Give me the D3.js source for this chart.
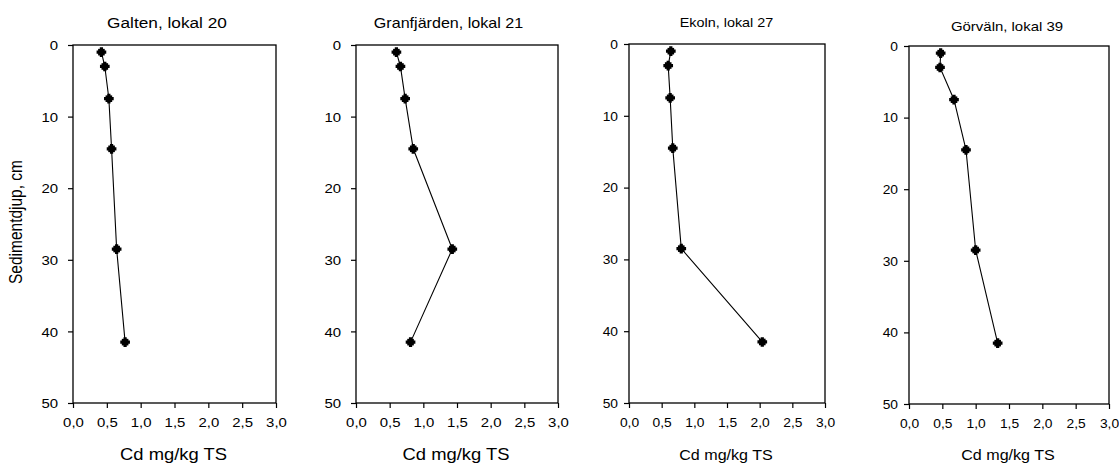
<!DOCTYPE html>
<html>
<head>
<meta charset="utf-8">
<script src="https://cdn.jsdelivr.net/npm/d3@7"></script>
<style>
  html, body { margin: 0; padding: 0; background: #fff; }
  svg { display: block; }
  text { font-family: "Liberation Sans", Arial, sans-serif; fill: #000; }
</style>
</head>
<body>
<svg id="chart" width="1119" height="464"></svg>
<script>
// ---- data ----
const depths = [1, 3, 7.5, 14.5, 28.5, 41.5];
const titles = ["Galten, lokal 20", "Granfjärden, lokal 21", "Ekoln, lokal 27", "Görväln, lokal 39"];
const galten = [0.42, 0.47, 0.53, 0.57, 0.645, 0.77];
const granfjarden = [0.60, 0.66, 0.73, 0.85, 1.43, 0.81];
const ekoln = [0.64, 0.60, 0.63, 0.67, 0.80, 2.04];
const gorvaln = [0.475, 0.465, 0.675, 0.855, 1.00, 1.33];
const xTicks = [0, 0.5, 1, 1.5, 2, 2.5, 3];
const yTicks = [0, 10, 20, 30, 40, 50];
const xLabel = "Cd mg/kg TS";
const yLabel = "Sedimentdjup, cm";

const series = [galten, granfjarden, ekoln, gorvaln];

// ---- layout (styles only) ----
const SX = 1.15; // horizontal text stretch of the original image
const panels = [
  {left: 73,  right: 276,  top: 45, bottom: 403, titleY: 27.5, fTitle: 15,   fTick: 13,   fLab: 16},
  {left: 356, right: 558,  top: 45, bottom: 403, titleY: 27.5, fTitle: 14,   fTick: 13,   fLab: 16},
  {left: 629, right: 825,  top: 44, bottom: 403, titleY: 27,   fTitle: 12.5, fTick: 12,   fLab: 14},
  {left: 909, right: 1109, top: 46, bottom: 404, titleY: 30.5, fTitle: 13,   fTick: 12,   fLab: 14}
];
const titleCX = [167, 448.5, 726.5, 1007];

const svg = d3.select("#chart");
const fmt = v => d3.format(".1f")(v).replace(".", ",");

panels.forEach((p, i) => {
  const x = d3.scaleLinear().domain([0, 3]).range([p.left, p.right]);
  const y = d3.scaleLinear().domain([0, 50]).range([p.top, p.bottom]);
  const g = svg.append("g");

  // frame
  g.append("rect")
    .attr("x", p.left).attr("y", p.top)
    .attr("width", p.right - p.left).attr("height", p.bottom - p.top)
    .attr("fill", "none").attr("stroke", "#000").attr("stroke-width", 1.3);

  // x axis
  const ax = g.append("g").attr("transform", `translate(0,${p.bottom})`)
    .call(d3.axisBottom(x).tickValues(xTicks).tickFormat(fmt).tickSize(5).tickSizeOuter(0));
  ax.select(".domain").remove();
  ax.selectAll("line").attr("stroke", "#000").attr("stroke-width", 1.2);
  ax.selectAll("text")
    .attr("font-family", "Liberation Sans, Arial, sans-serif")
    .attr("font-size", p.fTick)
    .attr("y", 0).attr("dy", 0)
    .attr("transform", `translate(0,24) scale(${SX},1)`);

  // y axis
  const ay = g.append("g").attr("transform", `translate(${p.left},0)`)
    .call(d3.axisLeft(y).tickValues(yTicks).tickSize(5).tickSizeOuter(0));
  ay.select(".domain").remove();
  ay.selectAll("line").attr("stroke", "#000").attr("stroke-width", 1.2);
  ay.selectAll("text")
    .attr("font-family", "Liberation Sans, Arial, sans-serif")
    .attr("font-size", p.fTick)
    .attr("x", 0).attr("dy", "0.36em")
    .attr("transform", `translate(${i < 2 ? -15 : -11},0) scale(${SX},1)`);

  // title
  svg.append("text")
    .attr("text-anchor", "middle")
    .attr("font-size", p.fTitle)
    .attr("transform", `translate(${titleCX[i]},${p.titleY}) scale(${SX},1)`)
    .text(titles[i]);

  // x label
  svg.append("text")
    .attr("text-anchor", "middle")
    .attr("font-size", p.fLab)
    .attr("transform", `translate(${(p.left + p.right) / 2 - 1},459.5) scale(${SX},1)`)
    .text(xLabel);

  // line
  const pts = depths.map((d, k) => [series[i][k], d]);
  g.append("path")
    .datum(pts)
    .attr("fill", "none").attr("stroke", "#000").attr("stroke-width", 1.1)
    .attr("d", d3.line().x(d => x(d[0])).y(d => y(d[1])));

  // markers: filled rounded cross
  const mk = g.selectAll(".mk").data(pts).enter().append("g")
    .attr("transform", d => `translate(${x(d[0])},${y(d[1])})`);
  mk.append("rect").attr("x", -3.3).attr("y", -3.3).attr("width", 6.6).attr("height", 6.6).attr("fill", "#000");
  mk.append("path").attr("d", d3.symbol().type(d3.symbolCross).size(52)()).attr("fill", "#000");
});

// y axis title
svg.append("text")
  .attr("text-anchor", "middle")
  .attr("font-size", 15.5)
  .attr("transform", `translate(22,222) scale(${SX},1) rotate(-90)`)
  .text(yLabel);
</script>
</body>
</html>
